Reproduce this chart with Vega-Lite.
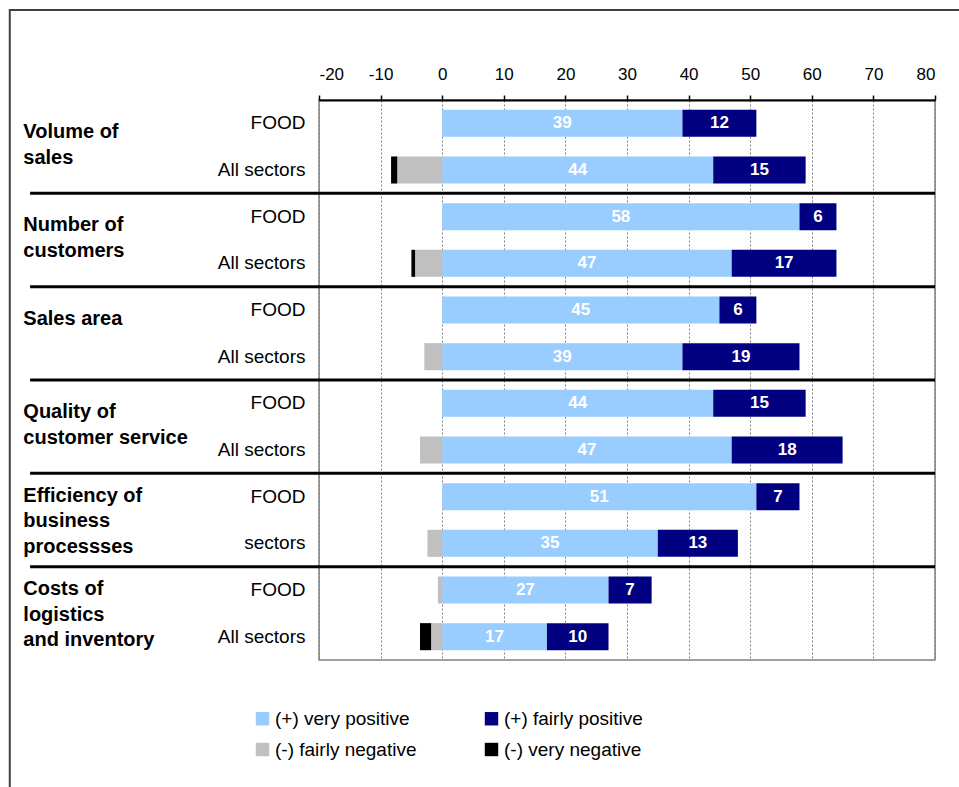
{
  "$schema": "https://vega.github.io/schema/vega-lite/v6.json",
  "width": 616,
  "height": 560,
  "autosize": {"type": "none"},
  "padding": {"left": 319, "top": 100, "right": 24, "bottom": 127},
  "background": "white",
  "config": {
    "font": "Liberation Sans",
    "view": {"stroke": "#808080", "strokeWidth": 1.5}
  },
  "datasets": {
    "segs": [
      {"key": "Volume of sales|FOOD", "series": "(+) very positive", "order": 1, "value": 39},
      {"key": "Volume of sales|FOOD", "series": "(+) fairly positive", "order": 2, "value": 12},
      {"key": "Volume of sales|All sectors", "series": "(+) very positive", "order": 1, "value": 44},
      {"key": "Volume of sales|All sectors", "series": "(+) fairly positive", "order": 2, "value": 15},
      {"key": "Volume of sales|All sectors", "series": "(-) fairly negative", "order": 3, "value": -7.3},
      {"key": "Volume of sales|All sectors", "series": "(-) very negative", "order": 4, "value": -1},
      {"key": "Number of customers|FOOD", "series": "(+) very positive", "order": 1, "value": 58},
      {"key": "Number of customers|FOOD", "series": "(+) fairly positive", "order": 2, "value": 6},
      {"key": "Number of customers|All sectors", "series": "(+) very positive", "order": 1, "value": 47},
      {"key": "Number of customers|All sectors", "series": "(+) fairly positive", "order": 2, "value": 17},
      {"key": "Number of customers|All sectors", "series": "(-) fairly negative", "order": 3, "value": -4.4},
      {"key": "Number of customers|All sectors", "series": "(-) very negative", "order": 4, "value": -0.6},
      {"key": "Sales area|FOOD", "series": "(+) very positive", "order": 1, "value": 45},
      {"key": "Sales area|FOOD", "series": "(+) fairly positive", "order": 2, "value": 6},
      {"key": "Sales area|All sectors", "series": "(+) very positive", "order": 1, "value": 39},
      {"key": "Sales area|All sectors", "series": "(+) fairly positive", "order": 2, "value": 19},
      {"key": "Sales area|All sectors", "series": "(-) fairly negative", "order": 3, "value": -2.9},
      {"key": "Quality of customer service|FOOD", "series": "(+) very positive", "order": 1, "value": 44},
      {"key": "Quality of customer service|FOOD", "series": "(+) fairly positive", "order": 2, "value": 15},
      {"key": "Quality of customer service|All sectors", "series": "(+) very positive", "order": 1, "value": 47},
      {"key": "Quality of customer service|All sectors", "series": "(+) fairly positive", "order": 2, "value": 18},
      {"key": "Quality of customer service|All sectors", "series": "(-) fairly negative", "order": 3, "value": -3.6},
      {"key": "Efficiency of business processses|FOOD", "series": "(+) very positive", "order": 1, "value": 51},
      {"key": "Efficiency of business processses|FOOD", "series": "(+) fairly positive", "order": 2, "value": 7},
      {"key": "Efficiency of business processses|sectors", "series": "(+) very positive", "order": 1, "value": 35},
      {"key": "Efficiency of business processses|sectors", "series": "(+) fairly positive", "order": 2, "value": 13},
      {"key": "Efficiency of business processses|sectors", "series": "(-) fairly negative", "order": 3, "value": -2.4},
      {"key": "Costs of logistics and inventory|FOOD", "series": "(+) very positive", "order": 1, "value": 27},
      {"key": "Costs of logistics and inventory|FOOD", "series": "(+) fairly positive", "order": 2, "value": 7},
      {"key": "Costs of logistics and inventory|FOOD", "series": "(-) fairly negative", "order": 3, "value": -0.7},
      {"key": "Costs of logistics and inventory|All sectors", "series": "(+) very positive", "order": 1, "value": 17},
      {"key": "Costs of logistics and inventory|All sectors", "series": "(+) fairly positive", "order": 2, "value": 10},
      {"key": "Costs of logistics and inventory|All sectors", "series": "(-) fairly negative", "order": 3, "value": -1.8},
      {"key": "Costs of logistics and inventory|All sectors", "series": "(-) very negative", "order": 4, "value": -1.8}
    ],
    "groups": [
      {"group": "Volume of sales", "label": "Volume of\nsales", "first": true},
      {"group": "Number of customers", "label": "Number of\ncustomers", "first": false},
      {"group": "Sales area", "label": "Sales area", "first": false},
      {"group": "Quality of customer service", "label": "Quality of\ncustomer service", "first": false},
      {"group": "Efficiency of business processses", "label": "Efficiency of\nbusiness\nprocessses", "first": false},
      {"group": "Costs of logistics and inventory", "label": "Costs of\nlogistics\nand inventory", "first": false}
    ]
  },
  "resolve": {"scale": {"y": "independent"}},
  "layer": [
    {
      "data": {"values": [{"frame": 1}]},
      "mark": {"type": "rect", "fill": null, "stroke": "#404040", "strokeWidth": 2, "clip": false},
      "encoding": {
        "x": {"datum": -70.2, "type": "quantitative", "scale": {"domain": [-20, 80], "nice": false}},
        "x2": {"datum": 95},
        "y": {"datum": -0.964, "type": "quantitative", "scale": {"domain": [0, 6], "nice": false, "reverse": true, "zero": false}, "axis": null},
        "y2": {"datum": 7.5}
      }
    },
    {
      "data": {"name": "groups"},
      "encoding": {
        "y": {
          "field": "group", "type": "nominal", "axis": null,
          "sort": ["Volume of sales", "Number of customers", "Sales area", "Quality of customer service", "Efficiency of business processses", "Costs of logistics and inventory"],
          "scale": {"paddingInner": 0, "paddingOuter": 0}
        }
      },
      "layer": [
        {
          "transform": [{"filter": "!datum.first"}],
          "mark": {"type": "rule", "color": "black", "strokeWidth": 3, "clip": false},
          "encoding": {
            "x": {"datum": -66.9, "type": "quantitative", "scale": {"domain": [-20, 80], "nice": false}},
            "x2": {"datum": 80},
            "y": {"field": "group", "type": "nominal", "bandPosition": 0,
              "sort": ["Volume of sales", "Number of customers", "Sales area", "Quality of customer service", "Efficiency of business processses", "Costs of logistics and inventory"]}
          }
        },
        {
          "transform": [{"filter": "length(split(datum.label, '\\n')) < 3"}],
          "mark": {"type": "text", "align": "left", "baseline": "middle", "fontWeight": "bold", "fontSize": 20, "lineBreak": "\n", "lineHeight": 25.5, "color": "black", "clip": false},
          "encoding": {
            "x": {"datum": -68.0, "type": "quantitative", "scale": {"domain": [-20, 80], "nice": false}},
            "y": {"field": "group", "type": "nominal", "bandPosition": 0.343,
              "sort": ["Volume of sales", "Number of customers", "Sales area", "Quality of customer service", "Efficiency of business processses", "Costs of logistics and inventory"]},
            "text": {"field": "label"}
          }
        },
        {
          "transform": [{"filter": "length(split(datum.label, '\\n')) >= 3"}],
          "mark": {"type": "text", "align": "left", "baseline": "middle", "fontWeight": "bold", "fontSize": 20, "lineBreak": "\n", "lineHeight": 25.5, "color": "black", "clip": false},
          "encoding": {
            "x": {"datum": -68.0, "type": "quantitative", "scale": {"domain": [-20, 80], "nice": false}},
            "y": {"field": "group", "type": "nominal", "bandPosition": 0.24,
              "sort": ["Volume of sales", "Number of customers", "Sales area", "Quality of customer service", "Efficiency of business processses", "Costs of logistics and inventory"]},
            "text": {"field": "label"}
          }
        }
      ]
    },
    {
      "data": {"name": "segs"},
      "transform": [
        {"stack": "value", "groupby": ["key"], "sort": [{"field": "order", "order": "ascending"}], "as": ["v0", "v1"], "offset": "zero"},
        {"calculate": "(datum.v0 + datum.v1) / 2", "as": "mid"}
      ],
      "encoding": {
        "y": {
          "field": "key", "type": "nominal",
          "sort": [
            "Volume of sales|FOOD", "Volume of sales|All sectors",
            "Number of customers|FOOD", "Number of customers|All sectors",
            "Sales area|FOOD", "Sales area|All sectors",
            "Quality of customer service|FOOD", "Quality of customer service|All sectors",
            "Efficiency of business processses|FOOD", "Efficiency of business processses|sectors",
            "Costs of logistics and inventory|FOOD", "Costs of logistics and inventory|All sectors"
          ],
          "scale": {"paddingInner": 0.42, "paddingOuter": 0.21},
          "axis": {
            "title": null, "ticks": false, "domain": false, "labelFontSize": 19, "labelColor": "black",
            "labelPadding": 14, "labelExpr": "split(datum.label, '|')[1]"
          }
        }
      },
      "layer": [
        {
          "mark": {"type": "bar"},
          "encoding": {
            "x": {
              "field": "v0", "type": "quantitative",
              "scale": {"domain": [-20, 80], "nice": false},
              "axis": {
                "orient": "top", "title": null, "values": [-20, -10, 0, 10, 20, 30, 40, 50, 60, 70, 80],
                "labelExpr": "'' + datum.value",
                "grid": true, "gridColor": "#808080", "gridDash": [2, 2], "gridWidth": 1,
                "domainColor": "black", "domainWidth": 2, "tickColor": "black", "tickSize": 5, "tickWidth": 1.5,
                "labelFontSize": 17, "labelColor": "black", "labelPadding": 12
              }
            },
            "x2": {"field": "v1"},
            "color": {
              "field": "series", "type": "nominal",
              "scale": {
                "domain": ["(+) very positive", "(+) fairly positive", "(-) fairly negative", "(-) very negative"],
                "range": ["#99CCFF", "#000080", "#C0C0C0", "#000000"]
              },
              "legend": {
                "title": null, "orient": "none", "legendX": -66, "legendY": 609, "columns": 2, "direction": "horizontal",
                "symbolType": "square", "symbolSize": 180, "symbolStrokeWidth": 0,
                "labelFontSize": 19, "labelColor": "black", "labelOffset": 3,
                "columnPadding": 65, "rowPadding": 11, "padding": 0
              }
            }
          }
        },
        {
          "transform": [{"filter": "datum.value > 0"}],
          "mark": {"type": "text", "color": "white", "fontWeight": "bold", "fontSize": 17, "baseline": "middle", "align": "center"},
          "encoding": {
            "x": {"field": "mid", "type": "quantitative", "scale": {"domain": [-20, 80], "nice": false}},
            "text": {"field": "value", "type": "quantitative", "format": "d"}
          }
        },
        {
          "mark": {"type": "rule", "color": "black", "strokeWidth": 3},
          "encoding": {
            "x": {"datum": 0, "type": "quantitative", "scale": {"domain": [-20, 80], "nice": false}}
          }
        }
      ]
    }
  ]
}
